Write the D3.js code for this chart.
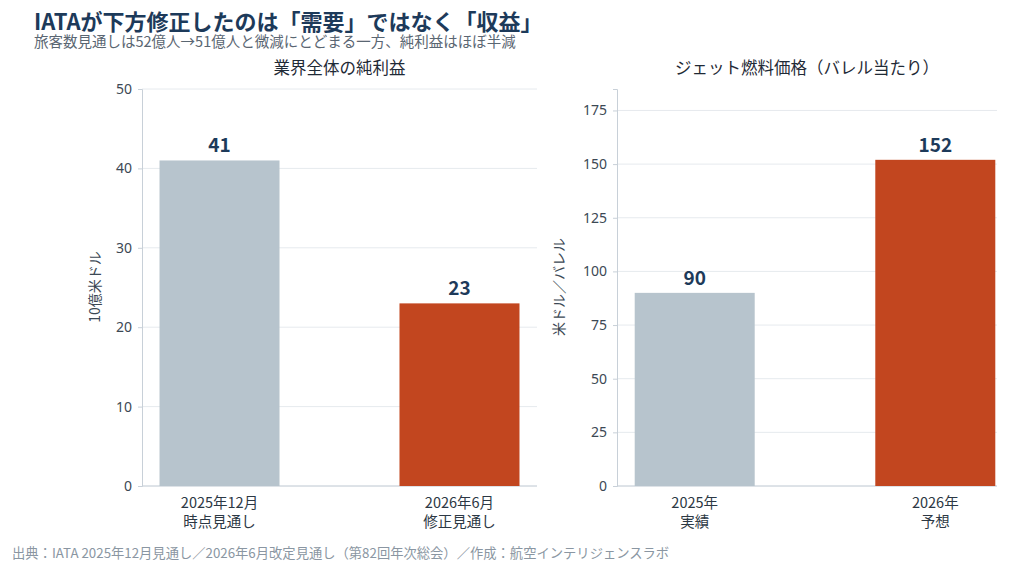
<!DOCTYPE html>
<html><head><meta charset="utf-8">
<script src="https://cdn.jsdelivr.net/npm/d3@7"></script>
<style>
body{margin:0;background:#fff;font-family:"Noto Sans CJK JP","Noto Sans",sans-serif;}
</style></head><body>
<svg id="c" width="1024" height="573"></svg>
<script>
// data
var profitCats = ["2025年12月\n時点見通し", "2026年6月\n修正見通し"];
var profitVals = [41, 23];
var profitTicks = [0, 10, 20, 30, 40, 50];
var fuelCats = ["2025年\n実績", "2026年\n予想"];
var fuelVals = [90, 152];
var fuelTicks = [0, 25, 50, 75, 100, 125, 150, 175];
var barColors = ["#b7c4cd", "#c2461f"];

var navy = "#1d3a5a", grey = "#5a6672";
var svg = d3.select("#c");

svg.append("text").attr("x", 34).attr("y", 30).attr("font-size", 22).attr("font-weight", 700)
  .attr("fill", navy).text("IATAが下方修正したのは「需要」ではなく「収益」");
svg.append("text").attr("x", 34).attr("y", 47).attr("font-size", 14.5).attr("fill", grey)
  .text("旅客数見通しは52億人→51億人と微減にとどまる一方、純利益はほぼ半減");
svg.append("text").attr("x", 12).attr("y", 558).attr("font-size", 13.3).attr("fill", "#8a96a2")
  .text("出典：IATA 2025年12月見通し／2026年6月改定見通し（第82回年次総会）／作成：航空インテリジェンスラボ");

function panel(o) {
  var y = d3.scaleLinear().domain([0, o.max]).range([486, 89]);
  var x = d3.scalePoint().domain(o.cats).range([o.x0, o.x1]).padding(0.323);
  var g = svg.append("g");
  g.selectAll(".grid").data(o.ticks).join("line")
    .attr("x1", o.x0).attr("x2", o.xe).attr("y1", d => y(d)).attr("y2", d => y(d))
    .attr("stroke", "#e6eaee");
  var ax = g.append("g").attr("transform", "translate(" + o.x0 + ",0)")
    .call(d3.axisLeft(y).tickValues(o.ticks).tickSize(4).tickPadding(6));
  ax.select(".domain").attr("stroke", "#c8d0d8");
  ax.selectAll(".tick line").attr("stroke", "#c8d0d8");
  ax.selectAll("text").attr("font-size", 14).attr("fill", "#3c4854").attr("font-family", "Noto Sans, sans-serif");
  g.append("line").attr("x1", o.x0).attr("x2", o.xe).attr("y1", 486).attr("y2", 486).attr("stroke", "#c8d0d8");
  var bw = 120;
  g.selectAll(".bar").data(o.vals).join("rect")
    .attr("x", (d, i) => x(o.cats[i]) - bw / 2).attr("width", bw)
    .attr("y", d => y(d)).attr("height", d => 486 - y(d))
    .attr("fill", (d, i) => barColors[i]);
  g.selectAll(".lbl").data(o.vals).join("text")
    .attr("x", (d, i) => x(o.cats[i])).attr("y", d => y(d) - 8)
    .attr("text-anchor", "middle").attr("font-size", 19).attr("font-weight", 700)
    .attr("fill", navy).text(d => d);
  o.cats.forEach(function (c) {
    c.split("\n").forEach(function (s, j) {
      g.append("text").attr("x", x(c)).attr("y", 508 + j * 19).attr("text-anchor", "middle")
        .attr("font-size", 14.5).attr("fill", "#2c3844").text(s);
    });
  });
  g.append("text").attr("x", (o.x0 + o.xe) / 2).attr("y", 74).attr("text-anchor", "middle")
    .attr("font-size", 16.5).attr("fill", "#1f2a36").text(o.title);
  g.append("text").attr("transform", "translate(" + (o.x0 - o.yoff) + ",287) rotate(-90)")
    .attr("text-anchor", "middle").attr("font-size", 14).attr("fill", "#3c4854").text(o.ylab);
}

panel({cats: profitCats, vals: profitVals, ticks: profitTicks, max: 50, x0: 142, x1: 537, xe: 537,
  title: "業界全体の純利益", ylab: "10億米ドル", yoff: 42});
panel({cats: fuelCats, vals: fuelVals, ticks: fuelTicks, max: 185, x0: 617, x1: 1013, xe: 997,
  title: "ジェット燃料価格（バレル当たり）", ylab: "米ドル／バレル", yoff: 53});
</script></body></html>
